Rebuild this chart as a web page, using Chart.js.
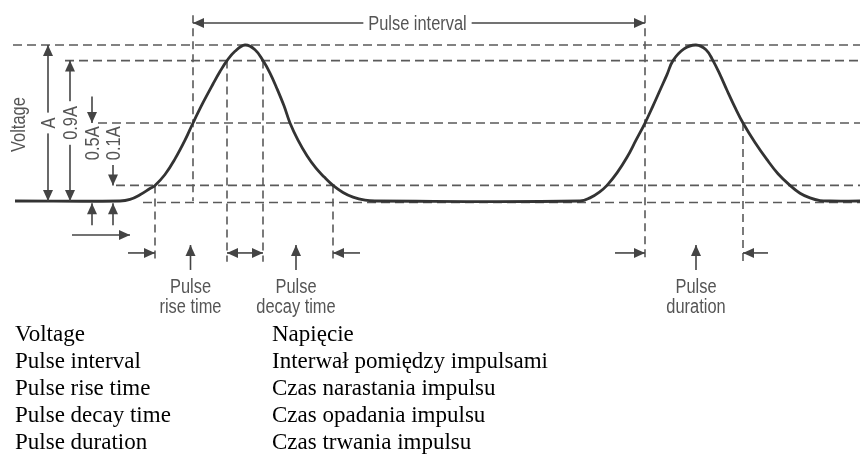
<!DOCTYPE html>
<html>
<head>
<meta charset="utf-8">
<script src="https://cdn.jsdelivr.net/npm/chart.js@4/dist/chart.umd.min.js"></script>
<style>
  html, body { margin: 0; padding: 0; background: #fff; }
  #wrap { position: relative; width: 860px; height: 456px; overflow: hidden; }
  #c { position: absolute; left: 0; top: 0; }
  .gl { position: absolute; top: 320px; font-family: "Liberation Serif", "Times New Roman", serif;
        font-size: 23px; line-height: 27px; color: #000; white-space: nowrap; }
</style>
</head>
<body>
<div id="wrap">
  <canvas id="c" width="860" height="456"></canvas>
  <div class="gl" id="glEn" style="left:15px"></div>
  <div class="gl" id="glPl" style="left:272px"></div>
</div>
<script>
// ---- data (time in arbitrary units, voltage as fraction of amplitude A) ----
const waveTime = [1.5, 12.0, 13.0, 14.0, 15.0, 15.5, 16.5, 17.5, 18.5, 19.3, 20.3, 21.3, 22.0, 22.7, 23.5, 24.5,
                  25.5, 26.3, 27.0, 27.7, 28.4, 29.0, 29.8, 30.7, 31.6, 32.4, 33.3, 34.3, 35.3, 36.5, 37.5,
                  58.0, 59.0, 60.0, 60.7, 61.7, 62.7, 63.6, 64.5, 65.3, 66.0, 66.7, 67.3, 68.4, 69.6,
                  70.6, 71.3, 72.0, 72.7, 73.5, 74.3, 75.5, 76.7, 77.8, 79.0, 80.0, 81.0, 82.0, 83.0, 86.0];
const waveVoltage = [0, 0, 0.01, 0.04, 0.08, 0.1, 0.17, 0.27, 0.39, 0.5, 0.63, 0.75, 0.83, 0.9, 0.96, 1.0,
                     0.97, 0.9, 0.82, 0.72, 0.61, 0.5, 0.39, 0.29, 0.21, 0.155, 0.1, 0.055, 0.025, 0.005, 0,
                     0, 0.02, 0.06, 0.1, 0.18, 0.28, 0.39, 0.5, 0.61, 0.71, 0.81, 0.9, 0.975, 1.0,
                     0.97, 0.9, 0.81, 0.71, 0.6, 0.5, 0.375, 0.265, 0.175, 0.1, 0.05, 0.02, 0.003, 0, 0];
const levelValues = [1, 0.9, 0.5, 0.1, 0];
const levelLabels = ['A', '0.9A', '0.5A', '0.1A', ''];
// pulse 1 timing marks
const p1Rise10 = 15.5, p1Rise50 = 19.3, p1Rise90 = 22.7, p1Fall90 = 26.3, p1Fall10 = 33.3;
// pulse 2 timing marks
const p2Rise50 = 64.5, p2Peak = 69.6, p2Fall50 = 74.3;
const diagramLabels = ['Pulse interval', 'Voltage'];
const bottomLabels = [['Pulse', 'rise time'], ['Pulse', 'decay time'], ['Pulse', 'duration']];
const glossaryEn = ['Voltage', 'Pulse interval', 'Pulse rise time', 'Pulse decay time', 'Pulse duration'];
const glossaryPl = ['Napięcie', 'Interwał pomiędzy impulsami', 'Czas narastania impulsu', 'Czas opadania impulsu', 'Czas trwania impulsu'];

document.getElementById('glEn').innerHTML = glossaryEn.join('<br>');
document.getElementById('glPl').innerHTML = glossaryPl.join('<br>');

const points = waveTime.map((t, i) => ({ x: t, y: waveVoltage[i] }));

const LINE = '#444';
const DASH = '#5a5a5a';
const TEXT = '#555';
const FONT = '20px "Liberation Sans", Arial, sans-serif';
const SQ = 0.82;

function arrowHead(ctx, x1, y1, x2, y2) {
  const a = Math.atan2(y2 - y1, x2 - x1);
  const L = 11, W = 5;
  ctx.beginPath();
  ctx.moveTo(x2, y2);
  ctx.lineTo(x2 - L * Math.cos(a) + W * Math.sin(a), y2 - L * Math.sin(a) - W * Math.cos(a));
  ctx.lineTo(x2 - L * Math.cos(a) - W * Math.sin(a), y2 - L * Math.sin(a) + W * Math.cos(a));
  ctx.closePath();
  ctx.fill();
}
function arrow(ctx, x1, y1, x2, y2, both) {
  ctx.beginPath(); ctx.moveTo(x1, y1); ctx.lineTo(x2, y2); ctx.stroke();
  arrowHead(ctx, x1, y1, x2, y2);
  if (both) arrowHead(ctx, x2, y2, x1, y1);
}
function label(ctx, text, cx, cy, rot, bg) {
  ctx.save();
  ctx.translate(cx, cy);
  if (rot) ctx.rotate(rot);
  ctx.scale(SQ, 1);
  ctx.font = FONT;
  ctx.textAlign = 'center';
  ctx.textBaseline = 'middle';
  if (bg) {
    const w = ctx.measureText(text).width;
    ctx.fillStyle = '#fff';
    ctx.fillRect(-w / 2 - 6, -11, w + 12, 22);
  }
  ctx.fillStyle = TEXT;
  ctx.fillText(text, 0, 1);
  ctx.restore();
}

const guides = {
  id: 'guides',
  beforeDatasetsDraw(chart) {
    const { ctx, scales: { x, y } } = chart;
    const X = t => x.getPixelForValue(t), Y = v => y.getPixelForValue(v);
    ctx.save();
    ctx.strokeStyle = DASH;
    ctx.lineWidth = 1.6;
    ctx.setLineDash([9, 5]);
    const starts = [1.3, 6.5, 9.8, 11.6, 14.3];
    levelValues.forEach((v, i) => {
      const yy = Y(v === 0 ? -0.01 : v);
      ctx.beginPath(); ctx.moveTo(X(starts[i]), yy); ctx.lineTo(X(86), yy); ctx.stroke();
    });
    ctx.setLineDash([8, 5]);
    const verts = [
      [p1Rise50, 1.19, 0], [p2Rise50, 1.19, -0.39],
      [p1Rise10, 0.1, -0.39], [p1Rise90, 0.9, -0.39], [p1Fall90, 0.9, -0.39], [p1Fall10, 0.1, -0.39],
      [p2Fall50, 0.5, -0.39]
    ];
    verts.forEach(([t, v1, v2]) => {
      ctx.beginPath(); ctx.moveTo(X(t), Y(v1)); ctx.lineTo(X(t), Y(v2)); ctx.stroke();
    });
    ctx.restore();
  },
  afterDatasetsDraw(chart) {
    const { ctx, scales: { x, y } } = chart;
    const X = t => x.getPixelForValue(t), Y = v => y.getPixelForValue(v);
    ctx.save();
    ctx.strokeStyle = LINE; ctx.fillStyle = LINE; ctx.lineWidth = 1.6; ctx.setLineDash([]);
    // pulse interval
    const yI = Y(1.141);
    arrow(ctx, X(p1Rise50), yI, X(p2Rise50), yI, true);
    label(ctx, diagramLabels[0], X(41.75), yI, 0, true);
    // amplitude dimension arrows
    ctx.fillStyle = LINE;
    arrow(ctx, X(4.8), Y(1), X(4.8), Y(0), true);
    label(ctx, levelLabels[0], X(4.8), Y(0.5), -Math.PI / 2, true);
    ctx.fillStyle = LINE;
    arrow(ctx, X(7.0), Y(0.9), X(7.0), Y(0), true);
    label(ctx, levelLabels[1], X(7.0), Y(0.5), -Math.PI / 2, true);
    ctx.fillStyle = LINE;
    arrow(ctx, X(9.2), Y(0.67), X(9.2), Y(0.5));
    label(ctx, levelLabels[2], X(9.2), Y(0.37), -Math.PI / 2, false);
    ctx.fillStyle = LINE;
    arrow(ctx, X(11.3), Y(0.23), X(11.3), Y(0.1));
    label(ctx, levelLabels[3], X(11.3), Y(0.37), -Math.PI / 2, false);
    label(ctx, diagramLabels[1], X(1.8), Y(0.49), -Math.PI / 2, false);
    ctx.fillStyle = LINE;
    // below baseline
    arrow(ctx, X(9.2), Y(-0.155), X(9.2), Y(-0.015));
    arrow(ctx, X(11.3), Y(-0.155), X(11.3), Y(-0.015));
    arrow(ctx, X(7.2), Y(-0.218), X(13.0), Y(-0.218));
    // timing arrows row
    const yr = Y(-0.333), yu1 = Y(-0.282), yu2 = Y(-0.442);
    arrow(ctx, X(12.8), yr, X(p1Rise10), yr);
    arrow(ctx, X(19.05), yu2, X(19.05), yu1);
    arrow(ctx, X(24.5), yr, X(p1Rise90), yr);
    arrow(ctx, X(24.5), yr, X(p1Fall90), yr);
    arrow(ctx, X(29.6), yu2, X(29.6), yu1);
    arrow(ctx, X(36.0), yr, X(p1Fall10), yr);
    arrow(ctx, X(61.5), yr, X(p2Rise50), yr);
    arrow(ctx, X(p2Peak), yu2, X(p2Peak), yu1);
    arrow(ctx, X(76.8), yr, X(p2Fall50), yr);
    const centers = [19.05, 29.6, p2Peak];
    bottomLabels.forEach((pair, i) => {
      label(ctx, pair[0], X(centers[i]), Y(-0.545), 0, false);
      label(ctx, pair[1], X(centers[i]), Y(-0.675), 0, false);
    });
    ctx.restore();
  }
};

new Chart(document.getElementById('c'), {
  type: 'line',
  data: {
    datasets: [{
      data: points,
      borderColor: '#333',
      borderWidth: 2.8,
      pointRadius: 0,
      tension: 0.4,
      fill: false
    }]
  },
  options: {
    responsive: false,
    animation: false,
    layout: { padding: 0 },
    scales: {
      x: { type: 'linear', min: 0, max: 86, display: false },
      y: { type: 'linear', min: -1.6346, max: 1.2885, display: false }
    },
    plugins: { legend: { display: false }, tooltip: { enabled: false } }
  },
  plugins: [guides]
});
</script>
</body>
</html>
